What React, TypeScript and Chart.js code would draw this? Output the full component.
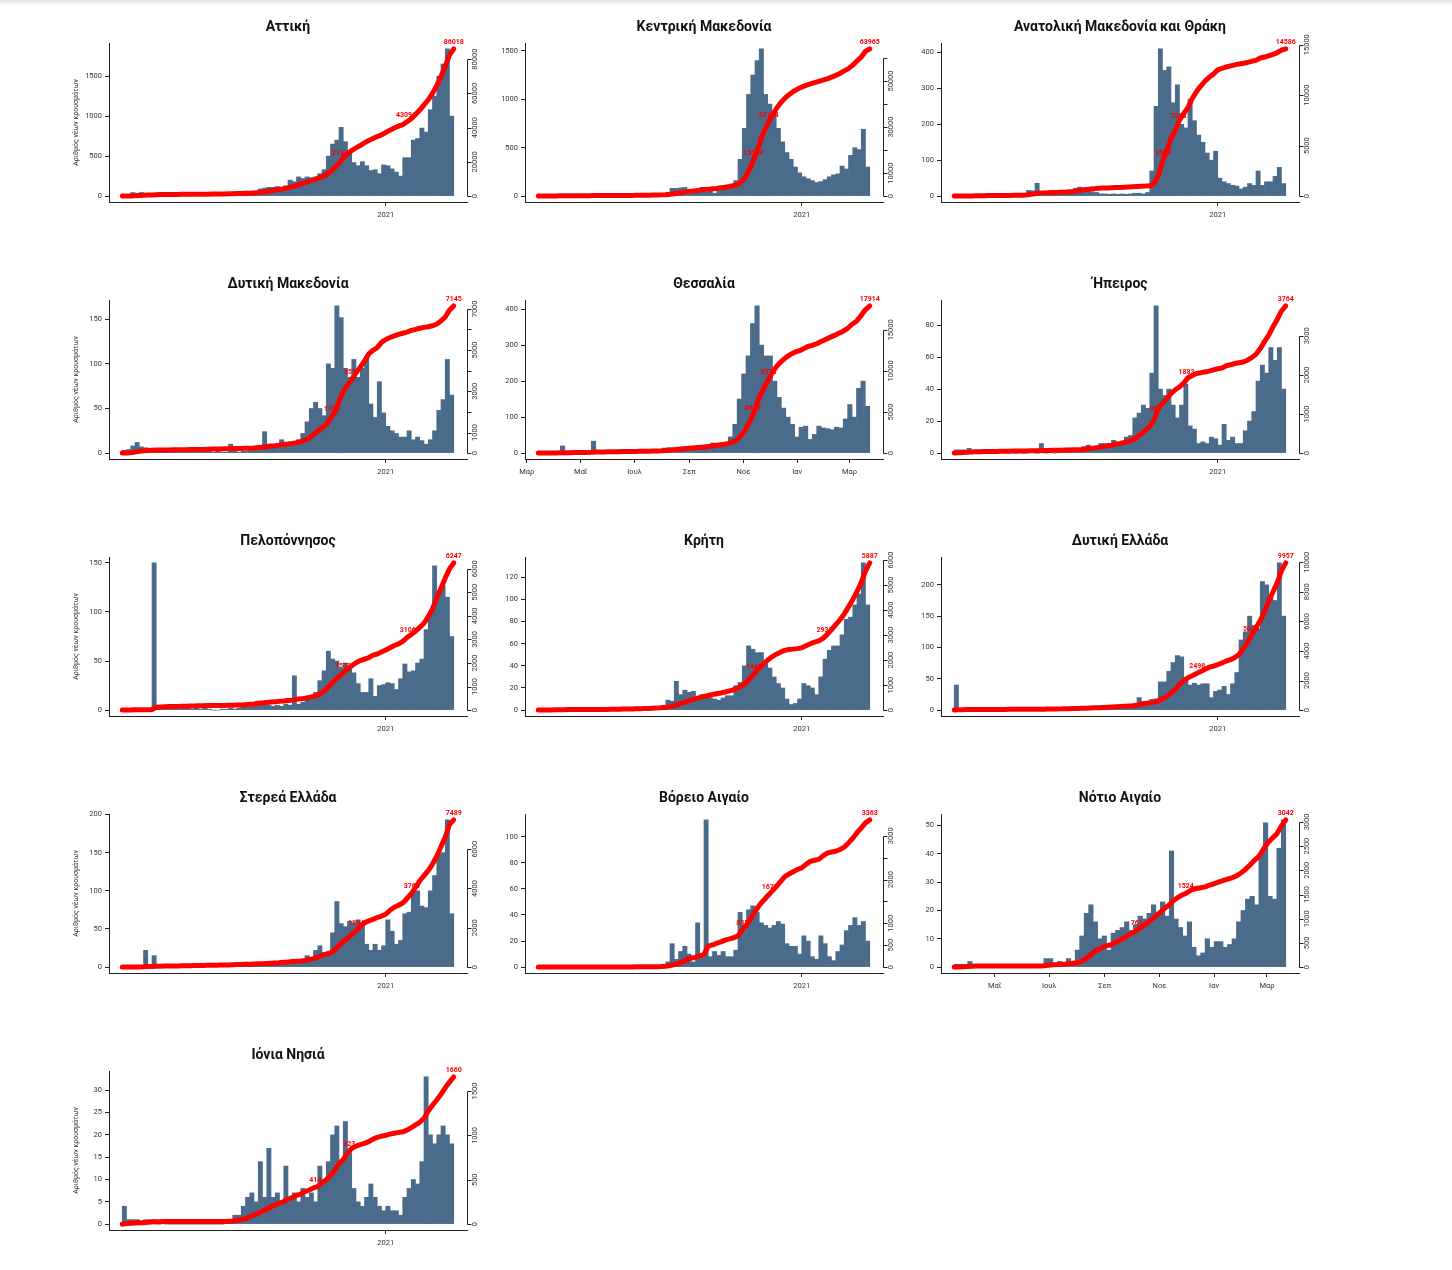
import React, { useEffect, useRef } from "react";
import { Chart, registerables } from "chart.js";

Chart.register(...registerables);

// ---------------- DATA (5-day bins of daily new cases) ----------------
const atticaDaily = [3,15,45,30,45,35,25,20,25,15, 10,8,5,5,4,5,5,5,6,8, 8,10,10,12,15,15,18,20,25,30, 40,50,90,100,110,110,120,110,130,200, 180,240,220,240,230,240,280,330,500,650, 700,860,680,550,420,380,430,380,320,330, 280,390,380,340,300,250,480,480,700,720, 850,800,1080,1250,1500,1650,1840,1000];
const atticaPeaks: [number, number][] = [];

const kentrikiDaily = [2,5,8,10,8,6,5,4,3,2, 2,2,2,2,2,3,3,3,3,4, 4,5,5,6,6,8,10,12,15,20, 40,80,80,85,90,60,40,60,90,40, 50,30,100,70,80,120,160,380,700,1050, 1250,1400,1520,1050,950,850,700,560,450,380, 300,240,200,180,160,140,150,170,200,220, 230,310,280,420,500,480,690,300];
const kentrikiPeaks: [number, number][] = [];

const amthDaily = [0,1,2,2,3,3,2,2,2,2, 1,1,1,2,2,3,8,16,15,25, 6,4,4,4,5,6,8,10,22,25, 12,18,12,10,6,6,5,6,5,6, 5,6,8,8,6,10,70,250,410,350, 360,260,310,200,190,270,210,170,150,120, 100,125,50,40,35,30,28,20,25,35, 30,70,30,40,40,55,80,35];
const amthPeaks: [number, number][] = [[19, 36]];

const dmDaily = [3,4,8,12,7,6,4,2,1,1, 1,1,1,1,1,1,1,1,1,2, 2,1,2,1,1,3,2,1,2,2, 3,5,4,10,10,6,8,8,8,10, 12,15,22,35,50,57,50,42,100,95, 165,152,95,85,105,85,95,108,55,40, 80,45,30,25,22,18,18,25,15,18, 14,10,15,25,48,60,105,65];
const dmPeaks: [number, number][] = [[25, 10], [33, 24], [37, 15]];

const thessalyDaily = [1,2,1,2,3,5,2,2,1,2, 3,2,8,3,4,3,2,2,2,2, 3,2,2,2,3,3,3,5,14,15, 13,15,17,12,12,12,12,14,15,28, 18,20,30,45,80,150,220,270,360,409, 300,270,270,200,155,125,100,80,45,72, 75,38,52,75,70,68,65,72,70,95, 135,100,180,200,130];
const thessalyPeaks: [number, number][] = [[5, 20], [12, 33]];

const ipeirosDaily = [2,2,2,3,1,1,1,0,1,0, 1,1,0,1,0,1,0,1,1,0, 2,0,1,0,1,1,1,1,1,2, 4,5,3,4,6,6,5,8,6,7, 10,11,22,25,30,28,50,92,40,36, 40,30,22,30,43,17,15,6,7,6, 10,9,5,18,8,10,6,6,14,20, 26,45,55,50,66,58,66,40];
const ipeirosPeaks: [number, number][] = [[20, 6]];

const pelopDaily = [0,1,2,1,1,1,1,30,3,2, 2,1,1,1,2,2,1,2,1,2, 1,0,0,1,1,2,1,2,3,4, 5,8,5,6,5,4,5,4,6,5, 10,6,8,10,14,18,30,40,60,52, 50,43,48,42,38,27,18,18,32,14, 25,26,28,27,21,32,47,39,40,48, 52,82,97,140,120,127,115,75];
const pelopPeaks: [number, number][] = [[7, 150], [40, 35], [73, 147]];

const kritiDaily = [0,1,1,1,1,1,1,0,1,0, 0,0,0,1,0,0,1,1,1,1, 1,1,1,1,2,2,3,3,2,4, 9,8,20,14,18,16,17,11,14,11, 11,10,9,11,13,13,22,25,40,58, 55,52,52,42,38,30,24,20,10,5, 6,10,24,22,20,14,30,46,54,58, 58,68,82,84,95,105,133,95];
const kritiPeaks: [number, number][] = [[32, 26]];

const dEllDaily = [8,1,1,1,1,1,0,1,0,0, 0,0,1,0,0,0,1,0,1,1, 1,1,1,1,2,2,2,2,2,3, 3,3,3,4,4,4,4,5,4,5, 5,6,10,20,14,12,17,18,45,45, 62,76,87,85,50,40,43,40,42,42, 20,30,32,38,25,42,60,112,125,150, 135,130,185,200,180,175,235,150];
const dEllPeaks: [number, number][] = [[0, 40], [72, 205]];

const stereaDaily = [0,1,1,1,1,5,1,4,1,1, 1,1,1,1,1,1,1,1,1,3, 1,1,1,1,1,4,2,2,2,2, 2,3,3,3,3,3,4,9,5,5, 5,6,8,15,12,22,28,19,20,45, 70,57,53,60,58,62,58,30,22,30, 22,28,62,47,30,35,70,72,100,100, 80,78,100,120,148,150,193,70];
const stereaPeaks: [number, number][] = [[5, 22], [7, 15], [50, 86]];

const voreioDaily = [0,0,0,1,0,0,0,0,0,0, 0,0,0,0,0,0,0,0,0,0, 0,0,1,0,0,1,0,0,1,2, 4,8,6,12,16,10,4,12,10,55, 8,12,9,12,8,8,13,42,32,44, 47,42,34,32,30,32,35,33,18,16, 16,10,24,20,8,6,24,18,8,5, 12,17,28,32,38,32,35,20];
const voreioPeaks: [number, number][] = [[31, 18], [37, 34], [39, 113]];

const notioDaily = [1,1,1,2,1,0,0,0,0,0, 0,0,0,0,0,0,0,0,0,1, 3,3,1,2,1,3,2,6,11,19, 22,16,10,11,6,12,13,14,16,13, 15,18,17,19,22,19,23,18,25,17, 14,11,16,7,4,5,10,7,9,9, 7,8,10,16,20,24,25,22,40,35, 25,24,42,35];
const notioPeaks: [number, number][] = [[48, 41], [69, 51], [73, 52]];

const ioniaDaily = [2,1,1,1,0,1,1,1,0,1, 0,0,0,0,0,0,0,0,0,0, 0,0,0,0,1,1,2,2,4,6, 7,5,8,6,9,6,7,5,8,6, 7,5,8,6,7,5,13,10,14,20, 22,14,23,16,8,5,4,6,9,6, 4,3,4,3,3,2,6,8,10,9, 14,25,20,18,20,22,20,18];
const ioniaPeaks: [number, number][] = [[0, 4], [32, 14], [34, 17], [38, 13], [71, 33]];

const regionTitles = ["Αττική", "Κεντρική Μακεδονία", "Ανατολική Μακεδονία και Θράκη", "Δυτική Μακεδονία", "Θεσσαλία", "Ήπειρος", "Πελοπόννησος", "Κρήτη", "Δυτική Ελλάδα", "Στερεά Ελλάδα", "Βόρειο Αιγαίο", "Νότιο Αιγαίο", "Ιόνια Νησιά"];
const regionSeries = [atticaDaily, kentrikiDaily, amthDaily, dmDaily, thessalyDaily, ipeirosDaily, pelopDaily, kritiDaily, dEllDaily, stereaDaily, voreioDaily, notioDaily, ioniaDaily];
const regionPeaks = [atticaPeaks, kentrikiPeaks, amthPeaks, dmPeaks, thessalyPeaks, ipeirosPeaks, pelopPeaks, kritiPeaks, dEllPeaks, stereaPeaks, voreioPeaks, notioPeaks, ioniaPeaks];
const regionTotals = [86018, 63965, 14586, 7145, 17914, 3764, 6247, 5887, 9957, 7489, 3363, 3042, 1660];
const quarterLabels = [21327, 15534, 3574, 1786, 4606, 957, 1573, 1449, 2498, 1864, 855, 761, 414];
const halfLabels = [43091, 32114, 7293, 3591, 8973, 1883, 3106, 2932, 5030, 3764, 1678, 1524, 823];
const startDates = ["2020-02-26", "2020-02-26", "2020-02-26", "2020-02-26", "2020-03-14", "2020-02-26", "2020-02-26", "2020-02-26", "2020-02-26", "2020-02-26", "2020-02-26", "2020-03-17", "2020-02-26"];
const leftSteps = [500, 500, 100, 50, 100, 20, 50, 20, 50, 50, 20, 10, 5];
const rightSteps = [20000, 10000, 5000, 1000, 5000, 1000, 1000, 1000, 2000, 2000, 500, 500, 500];
const monthlyAxis = [false, false, false, false, true, false, false, false, false, false, false, true, false];
const yearTickDates = ["2021-01-01"];
const yearTickLabels = ["2021"];
const monthTickDates = ["2020-03-01", "2020-05-01", "2020-07-01", "2020-09-01", "2020-11-01", "2021-01-01", "2021-03-01"];
const monthTickLabels = ["Μαρ", "Μαΐ", "Ιουλ", "Σεπ", "Νοε", "Ιαν", "Μαρ"];
const yAxisTitle = "Αριθμός νέων κρουσμάτων";

// ---------------- LAYOUT / STYLE ----------------
const BIN_DAYS = 5;
const COL_LEFT = [109, 525, 941];
const ROW_TOP = 43;
const ROW_STEP = 257;
const PLOT_W = 358;
const PLOT_H = 159;
const PAD_L = 60;
const PAD_R = 45;
const PAD_T = 43;
const CANVAS_W = PAD_L + PLOT_W + PAD_R;
const CANVAS_H = 257;
const BAR_COLOR = "#4a6b8a";
const LINE_COLOR = "#ff0000";
const AXIS_COLOR = "#222222";
const TEXT_COLOR = "#333333";
const FONT = "Roboto";

Chart.defaults.font.family = FONT;

function dayIndex(start: string, d: string) {
  return Math.round((Date.parse(d + "T00:00:00Z") - Date.parse(start + "T00:00:00Z")) / 86400000);
}

function Panel({ idx }: { idx: number }) {
  const ref = useRef<HTMLCanvasElement>(null);
  const col = idx % 3;
  const row = Math.floor(idx / 3);

  useEffect(() => {
    const values = regionSeries[idx];
    const heights = values.slice();
    regionPeaks[idx].forEach(([b, v]) => {
      heights[b] = v;
    });
    const span = values.length * BIN_DAYS;
    const sum = values.reduce((a, b) => a + b, 0);
    const total = regionTotals[idx];
    let run = 0;
    const linePts: { x: number; y: number }[] = [{ x: 0, y: 0 }];
    values.forEach((v, i) => {
      run += v;
      linePts.push({ x: (i + 1) * BIN_DAYS, y: (total * run) / sum });
    });
    const barPts = heights.map((h, i) => ({ x: (i + 0.5) * BIN_DAYS, y: h }));
    const barMax = Math.max(...heights);

    const xMin = -0.04 * span;
    const xMax = span * 1.04;
    const yMin = -0.04 * barMax;
    const yMax = barMax * 1.04;
    const y1Min = -0.04 * total;
    const y1Max = total * 1.04;

    const tDates = monthlyAxis[idx] ? monthTickDates : yearTickDates;
    const tLabs = monthlyAxis[idx] ? monthTickLabels : yearTickLabels;
    const tickVals: number[] = [];
    const tickLabs: string[] = [];
    tDates.forEach((d, k) => {
      const v = dayIndex(startDates[idx], d);
      if (v >= xMin && v <= xMax) {
        tickVals.push(v);
        tickLabs.push(tLabs[k]);
      }
    });

    const stepTicks = (step: number, max: number) => {
      const t: { value: number }[] = [];
      for (let v = 0; v <= max + 1e-9; v += step) t.push({ value: v });
      return t;
    };

    const crossX = (target: number) => {
      for (let i = 1; i < linePts.length; i++) {
        if (linePts[i].y >= target) {
          const a = linePts[i - 1];
          const b = linePts[i];
          const t = b.y === a.y ? 1 : (target - a.y) / (b.y - a.y);
          return a.x + t * (b.x - a.x);
        }
      }
      return linePts[linePts.length - 1].x;
    };

    const decor = {
      id: "panelDecor" + idx,
      afterDatasetsDraw(chart: any) {
        const ctx = chart.ctx;
        const xs = chart.scales.x;
        const y1 = chart.scales.y1;
        ctx.save();
        ctx.fillStyle = LINE_COLOR;
        ctx.font = `bold 7px ${FONT}`;
        ctx.textAlign = "center";
        ctx.textBaseline = "alphabetic";
        const marks = [quarterLabels[idx], halfLabels[idx]];
        marks.forEach((v) => {
          const px = xs.getPixelForValue(crossX(v));
          const py = y1.getPixelForValue(v);
          ctx.fillText(String(v), px, py - 5);
        });
        const last = linePts[linePts.length - 1];
        ctx.fillText(String(total), xs.getPixelForValue(last.x), y1.getPixelForValue(last.y) - 5);
        ctx.restore();
      },
      afterDraw(chart: any) {
        const ctx = chart.ctx;
        const area = chart.chartArea;
        const y1 = chart.scales.y1;
        ctx.save();
        // title
        ctx.fillStyle = "#111111";
        ctx.font = `bold 14px ${FONT}`;
        ctx.textAlign = "center";
        ctx.textBaseline = "middle";
        ctx.fillText(regionTitles[idx], (area.left + area.right) / 2, area.top - 16);
        // y axis title (first column only)
        if (col === 0) {
          ctx.save();
          ctx.translate(area.left - 33, (area.top + area.bottom) / 2);
          ctx.rotate(-Math.PI / 2);
          ctx.font = `7px ${FONT}`;
          ctx.fillStyle = TEXT_COLOR;
          ctx.textAlign = "center";
          ctx.textBaseline = "middle";
          ctx.fillText(yAxisTitle, 0, 0);
          ctx.restore();
        }
        // right axis
        const xr = Math.round(area.right) + 0.5;
        const ticks = y1.ticks.map((t: any) => t.value);
        ctx.strokeStyle = AXIS_COLOR;
        ctx.lineWidth = 1;
        ctx.beginPath();
        const pTop = Math.round(y1.getPixelForValue(ticks[ticks.length - 1])) + 0.5;
        const pBot = Math.round(y1.getPixelForValue(ticks[0])) + 0.5;
        ctx.moveTo(xr, pBot);
        ctx.lineTo(xr, pTop);
        ticks.forEach((v: number) => {
          const py = Math.round(y1.getPixelForValue(v)) + 0.5;
          ctx.moveTo(xr, py);
          ctx.lineTo(xr + 4, py);
        });
        ctx.stroke();
        ctx.font = `7.5px ${FONT}`;
        ctx.fillStyle = TEXT_COLOR;
        ctx.textAlign = "center";
        ctx.textBaseline = "middle";
        let lastPos: number | null = null;
        let lastHalf = 0;
        const gap = 6;
        ticks.forEach((v: number) => {
          const label = String(v);
          const w = ctx.measureText(label).width;
          const py = y1.getPixelForValue(v);
          if (lastPos !== null && Math.abs(lastPos - py) < lastHalf + w / 2 + gap) return;
          ctx.save();
          ctx.translate(xr + 8, py);
          ctx.rotate(-Math.PI / 2);
          ctx.fillText(label, 0, 0);
          ctx.restore();
          lastPos = py;
          lastHalf = w / 2;
        });
        ctx.restore();
      },
    };

    const axisGrid = {
      display: true,
      drawOnChartArea: false,
      drawTicks: true,
      tickLength: 4,
      color: AXIS_COLOR,
      tickColor: AXIS_COLOR,
      lineWidth: 1,
      offset: false,
    };

    const chart = new Chart(ref.current as HTMLCanvasElement, {
      type: "bar",
      data: {
        datasets: [
          {
            type: "line",
            data: linePts,
            borderColor: LINE_COLOR,
            backgroundColor: LINE_COLOR,
            borderWidth: 5,
            pointRadius: 0,
            tension: 0,
            borderCapStyle: "round",
            borderJoinStyle: "round",
            yAxisID: "y1",
            order: 0,
            clip: false,
          } as any,
          {
            type: "bar",
            data: barPts,
            backgroundColor: BAR_COLOR,
            borderWidth: 0,
            barPercentage: 1,
            categoryPercentage: 1,
            yAxisID: "y",
            order: 1,
          } as any,
        ],
      },
      options: {
        responsive: false,
        animation: false,
        events: [],
        layout: { padding: { top: PAD_T, left: 0, right: 0, bottom: 0 } },
        plugins: {
          legend: { display: false },
          tooltip: { enabled: false },
          title: { display: false },
        },
        scales: {
          x: {
            type: "linear",
            min: xMin,
            max: xMax,
            offset: false,
            grid: axisGrid,
            border: { display: true, color: AXIS_COLOR, width: 1 },
            ticks: {
              autoSkip: false,
              maxRotation: 0,
              minRotation: 0,
              padding: 5,
              color: TEXT_COLOR,
              font: { family: FONT, size: 7.5 },
              callback: (v: any) => {
                const k = tickVals.indexOf(v);
                return k >= 0 ? tickLabs[k] : "";
              },
            },
            afterBuildTicks: (s: any) => {
              s.ticks = tickVals.map((v) => ({ value: v }));
            },
            afterFit: (s: any) => {
              s.height = CANVAS_H - PAD_T - PLOT_H;
            },
          },
          y: {
            type: "linear",
            position: "left",
            min: yMin,
            max: yMax,
            grid: axisGrid,
            border: { display: true, color: AXIS_COLOR, width: 1 },
            ticks: {
              autoSkip: false,
              padding: 3,
              color: TEXT_COLOR,
              font: { family: FONT, size: 7.5 },
              callback: (v: any) => String(v),
            },
            afterBuildTicks: (s: any) => {
              s.ticks = stepTicks(leftSteps[idx], yMax);
            },
            afterFit: (s: any) => {
              s.width = PAD_L;
            },
          },
          y1: {
            type: "linear",
            position: "right",
            min: y1Min,
            max: y1Max,
            grid: { display: false, drawTicks: false },
            border: { display: false },
            ticks: { display: false },
            afterBuildTicks: (s: any) => {
              s.ticks = stepTicks(rightSteps[idx], y1Max);
            },
            afterFit: (s: any) => {
              s.width = PAD_R;
            },
          },
        },
      } as any,
      plugins: [decor],
    });
    return () => chart.destroy();
  }, [idx]);

  return (
    <canvas
      ref={ref}
      width={CANVAS_W}
      height={CANVAS_H}
      style={{
        position: "absolute",
        left: COL_LEFT[col] - PAD_L,
        top: ROW_TOP + row * ROW_STEP - PAD_T,
        width: CANVAS_W,
        height: CANVAS_H,
      }}
    />
  );
}

export default function App() {
  return (
    <div
      style={{
        position: "absolute",
        left: 0,
        top: 0,
        width: 1452,
        height: 1270,
        background: "#ffffff",
        overflow: "hidden",
      }}
    >
      <div
        style={{
          position: "absolute",
          left: 0,
          top: 0,
          width: 1452,
          height: 6,
          background: "linear-gradient(#e4e4e4, #ffffff)",
        }}
      />
      {regionTitles.map((_, i) => (
        <Panel key={i} idx={i} />
      ))}
    </div>
  );
}
